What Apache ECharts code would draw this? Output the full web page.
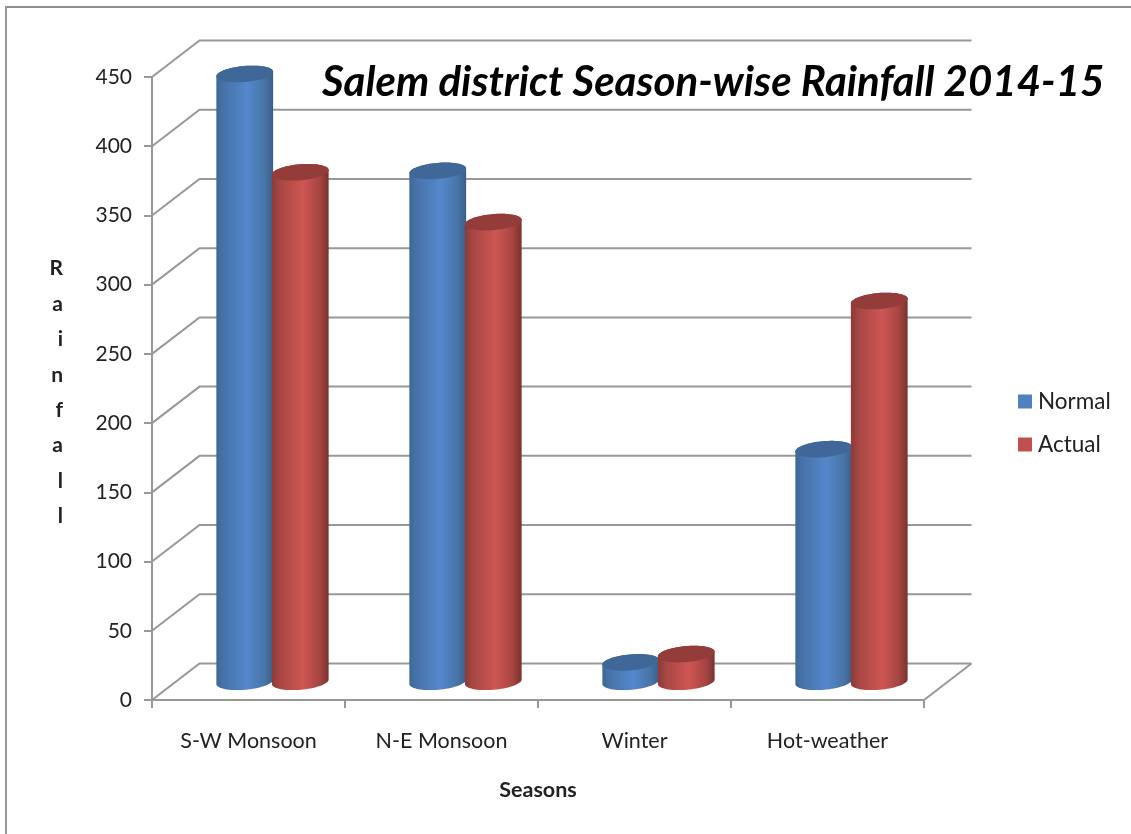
<!DOCTYPE html>
<html>
<head>
<meta charset="utf-8">
<style>html,body{margin:0;padding:0;background:#fff}#c{width:1131px;height:834px}</style>
<script src="https://cdn.jsdelivr.net/npm/echarts@6/dist/echarts.min.js"></script>
</head>
<body>
<div id="c"></div>
<script>
const categories = ['S-W Monsoon', 'N-E Monsoon', 'Winter', 'Hot-weather'];
const normal = [439, 369, 14, 168];
const actual = [368, 332, 20, 275];
const yTicks = [0, 50, 100, 150, 200, 250, 300, 350, 400, 450];

const DEPTH_X = 47.5, DEPTH_Y = 36.5;
const BAR_W = 57, ELL_B = 8, TILT = -5 * Math.PI / 180;

function ellPoint(cx, cy, a, b, t) {
  const c = Math.cos(t), s = Math.sin(t), cr = Math.cos(TILT), sr = Math.sin(TILT);
  return [cx + a * c * cr - b * s * sr, cy + a * c * sr + b * s * cr];
}
function grad(stops) {
  return { type: 'linear', x: 0, y: 0, x2: 1, y2: 0,
    colorStops: stops.map(s => ({ offset: s[0], color: s[1] })) };
}
function cylinderSeries(name, values, offset, stops, capColor, swatch) {
  return {
    type: 'custom', name, z: 5,
    itemStyle: { color: swatch },
    data: values.map((v, i) => [i, v]),
    encode: { x: 0, y: 1 },
    renderItem(params, api) {
      const top = api.coord([api.value(0), api.value(1)]);
      const base = api.coord([api.value(0), 0]);
      const cx = top[0] + offset + DEPTH_X / 2;
      const ty = top[1] - DEPTH_Y / 2, by = base[1] - DEPTH_Y / 2;
      const a = BAR_W / 2;
      const body = [], cap = [];
      for (let k = 0; k <= 36; k++) body.push(ellPoint(cx, by, a, ELL_B, Math.PI - Math.PI * k / 36));
      for (let k = 0; k <= 36; k++) body.push(ellPoint(cx, ty, a, ELL_B, -Math.PI * k / 36));
      for (let k = 0; k < 72; k++) cap.push(ellPoint(cx, ty, a, ELL_B, 2 * Math.PI * k / 72));
      return { type: 'group', children: [
        { type: 'polygon', shape: { points: body }, style: { fill: grad(stops) } },
        { type: 'polygon', shape: { points: cap }, style: { fill: capColor } }
      ] };
    }
  };
}

const gridSeries = {
  type: 'custom', name: 'walls', z: 1, silent: true,
  data: yTicks.map(t => [0, t]),
  encode: { y: 1 },
  renderItem(params, api) {
    const cs = params.coordSys;
    const y = api.coord([0, api.value(1)])[1];
    const kids = [{
      type: 'polyline',
      shape: { points: [[cs.x, y], [cs.x + DEPTH_X, y - DEPTH_Y], [cs.x + cs.width + DEPTH_X, y - DEPTH_Y]] },
      style: { stroke: '#989898', lineWidth: 2, fill: null }
    }];
    if (api.value(1) === 0) kids.push({
      type: 'line',
      shape: { x1: cs.x + cs.width, y1: y, x2: cs.x + cs.width + DEPTH_X, y2: y - DEPTH_Y },
      style: { stroke: '#989898', lineWidth: 2 }
    });
    return { type: 'group', children: kids };
  }
};

const FONT = 'Lato, sans-serif';
const chart = echarts.init(document.getElementById('c'), null, { renderer: 'canvas' });
chart.setOption({
  animation: false,
  backgroundColor: '#ffffff',
  title: {
    text: 'Salem district Season-wise Rainfall 2014-15',
    left: 317, top: 56,
    textStyle: { fontFamily: FONT, fontSize: 42, fontWeight: 'bold', fontStyle: 'italic', color: '#000' }
  },
  legend: {
    orient: 'vertical', left: 1013, top: 385, itemGap: 20,
    itemWidth: 14, itemHeight: 14, itemStyle: { borderWidth: 0 }, icon: 'rect',
    data: ['Normal', 'Actual'],
    textStyle: { fontFamily: FONT, fontSize: 22.5, color: '#222', padding: [0, 0, 0, 1] }
  },
  grid: { left: 152, right: 207, top: 77, bottom: 134 },
  xAxis: {
    type: 'category', data: categories,
    name: 'Seasons', nameLocation: 'middle', nameGap: 79,
    nameTextStyle: { fontFamily: FONT, fontSize: 21.5, fontWeight: 'bold', color: '#222' },
    axisLine: { lineStyle: { color: '#989898', width: 2 } },
    axisTick: { show: true, length: 8, lineStyle: { color: '#989898', width: 2 }, alignWithLabel: false },
    axisLabel: { fontFamily: FONT, fontSize: 21.5, color: '#222', margin: 30 },
    splitLine: { show: false }
  },
  yAxis: {
    type: 'value', min: 0, max: 450, interval: 50,
    name: '{gap|\u00a0}\nR\na\ni\nn\nf\na\nl\nl', nameLocation: 'middle', nameGap: 89, nameRotate: 0,
    nameTextStyle: { fontFamily: FONT, fontSize: 21, fontWeight: 'bold', color: '#222', lineHeight: 35.4,
      rich: { gap: { fontSize: 4, lineHeight: 8 } } },
    axisLine: { show: true, lineStyle: { color: '#989898', width: 2 } },
    axisTick: { show: true, length: 8, lineStyle: { color: '#989898', width: 2 } },
    axisLabel: { fontFamily: FONT, fontSize: 21, color: '#222', margin: 20, padding: [2, 0, 0, 0] },
    splitLine: { show: false }
  },
  series: [
    gridSeries,
    cylinderSeries('Normal', normal, -27.5,
      [[0, '#3d6895'], [0.12, '#4672a8'], [0.55, '#5488cc'], [0.85, '#4874a6'], [1, '#3a5f88']], '#3f6797', '#4f81bd'),
    cylinderSeries('Actual', actual, 28,
      [[0, '#8a3b39'], [0.15, '#a94744'], [0.55, '#ce5653'], [0.85, '#a44441'], [1, '#7a3230']], '#933c39', '#c0504d')
  ],
  graphic: [
    { type: 'line', silent: true, shape: { x1: 6, y1: 7, x2: 1131, y2: 7 }, style: { stroke: '#8e8e8e', lineWidth: 2 } },
    { type: 'line', silent: true, shape: { x1: 6, y1: 6, x2: 6, y2: 834 }, style: { stroke: '#979797', lineWidth: 2 } }
  ]
});
</script>
</body>
</html>
